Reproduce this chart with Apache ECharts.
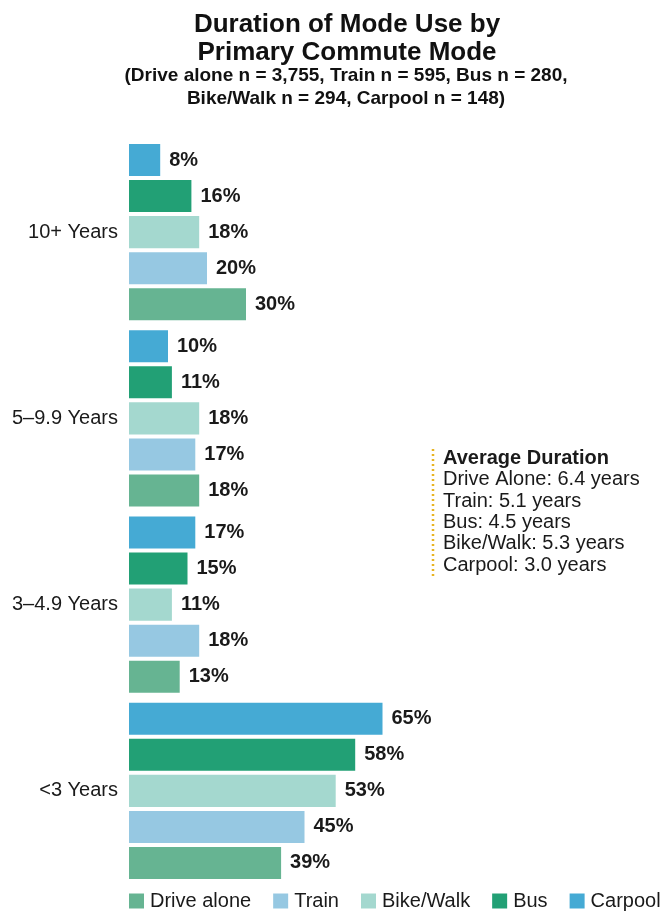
<!DOCTYPE html>
<html>
<head>
<meta charset="utf-8">
<script src="https://cdn.jsdelivr.net/npm/echarts@6/dist/echarts.min.js"></script>
<style>
html,body{margin:0;padding:0;background:#fff;}
#chart{width:663px;height:911px;}
</style>
</head>
<body>
<div id="chart"></div>
<script>
// Categories listed bottom-to-top (category axis runs upward)
var categories = ['<3 Years', '3\u20134.9 Years', '5\u20139.9 Years', '10+ Years'];
// Legend order
var seriesNames = ['Drive alone', 'Train', 'Bike/Walk', 'Bus', 'Carpool'];
var driveAlone = [39, 13, 18, 30];
var train      = [45, 18, 17, 20];
var bikeWalk   = [53, 11, 18, 18];
var bus        = [58, 15, 11, 16];
var carpool    = [65, 17, 10, 8];
var seriesColors = ['#66B492', '#96C8E2', '#A4D8CF', '#22A075', '#45AAD4'];

var avgModes  = ['Drive Alone', 'Train', 'Bus', 'Bike/Walk', 'Carpool'];
var avgYears  = [6.4, 5.1, 4.5, 5.3, 3.0];

var titleText = 'Duration of Mode Use by\nPrimary Commute Mode';
var subText = '(Drive alone n = 3,755, Train n = 595, Bus n = 280,\nBike/Walk n = 294, Carpool n = 148)';

var FONT = '"Liberation Sans", Arial, sans-serif';
var TXT = '#1a1a1a';

var values = [driveAlone, train, bikeWalk, bus, carpool];
var series = seriesNames.map(function (name, i) {
  return {
    name: name,
    type: 'bar',
    data: values[i],
    barGap: '12.5%',
    barCategoryGap: '5.5%',
    itemStyle: { color: seriesColors[i] },
    label: {
      show: true,
      position: 'right',
      distance: 9,
      formatter: '{c}%',
      fontFamily: FONT,
      fontSize: 20,
      fontWeight: 'bold',
      color: TXT
    },
    emphasis: { disabled: true }
  };
}).reverse(); // first series is drawn at the top of each group

var annoLines = ['{b|Average Duration}'];
for (var k = 0; k < avgModes.length; k++) {
  annoLines.push('{n|' + avgModes[k] + ': ' + avgYears[k].toFixed(1) + ' years}');
}

var chart = echarts.init(document.getElementById('chart'), null, { renderer: 'canvas' });
chart.setOption({
  backgroundColor: '#ffffff',
  animation: false,
  title: [
    {
      text: titleText,
      left: 347,
      top: 11,
      textAlign: 'center',
      padding: 0,
      textStyle: { fontFamily: FONT, fontSize: 26, fontWeight: 'bold', color: '#111', lineHeight: 28 }
    },
    {
      text: subText,
      left: 346,
      top: 65,
      textAlign: 'center',
      padding: 0,
      textStyle: { fontFamily: FONT, fontSize: 19, fontWeight: 'bold', color: '#111', lineHeight: 22.5 }
    }
  ],
  legend: {
    data: seriesNames,
    left: 129,
    top: 891,
    padding: 0,
    itemWidth: 15,
    itemHeight: 15,
    itemGap: 22,
    icon: 'rect',
    selectedMode: false,
    textStyle: { fontFamily: FONT, fontSize: 20, color: TXT, padding: [0, 0, 0, 1] }
  },
  grid: { left: 129, top: 139, width: 390, height: 745, containLabel: false },
  xAxis: {
    type: 'value',
    min: 0,
    max: 100,
    show: false
  },
  yAxis: {
    type: 'category',
    data: categories,
    axisLine: { show: false },
    axisTick: { show: false },
    splitLine: { show: false },
    axisLabel: { fontFamily: FONT, fontSize: 20, color: TXT, margin: 11 }
  },
  series: series,
  graphic: [
    {
      type: 'line',
      shape: { x1: 433, y1: 449, x2: 433, y2: 577 },
      style: { stroke: '#E8B422', lineWidth: 2.5, lineDash: [2, 3] },
      silent: true
    },
    {
      type: 'text',
      x: 443,
      y: 448,
      silent: true,
      style: {
        text: annoLines.join('\n'),
        fill: TXT,
        rich: {
          b: { fontFamily: FONT, fontSize: 20, fontWeight: 'bold', lineHeight: 21.3, fill: TXT },
          n: { fontFamily: FONT, fontSize: 20, lineHeight: 21.3, fill: TXT }
        }
      }
    }
  ]
});
</script>
</body>
</html>
